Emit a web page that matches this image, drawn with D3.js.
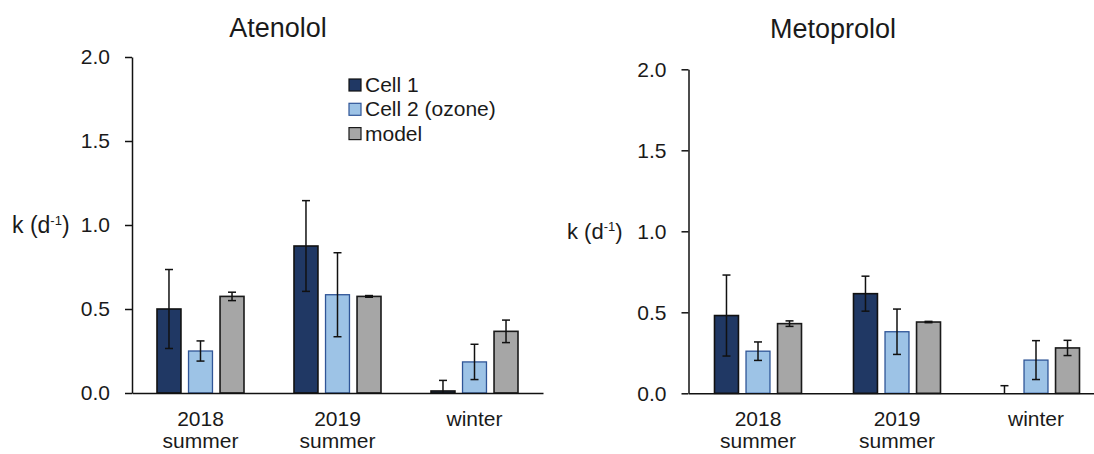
<!DOCTYPE html>
<html>
<head>
<meta charset="utf-8">
<script src="https://cdn.jsdelivr.net/npm/d3@7"></script>
<style>
  html, body { margin: 0; padding: 0; background: #ffffff; }
  svg { display: block; }
  text { font-family: "Liberation Sans", Arial, Helvetica, sans-serif; fill: #1a1a1a; }
</style>
</head>
<body>
<svg id="chart" width="1094" height="454"></svg>
<script>
// Categories and series
const groupLabels = [["2018", "summer"], ["2019", "summer"], ["winter"]];
const groupKeys = ["2018 summer", "2019 summer", "winter"];
const seriesNames = ["Cell 1", "Cell 2 (ozone)", "model"];
const yTicks = [0, 0.5, 1.0, 1.5, 2.0];

// Atenolol rate constants k (d-1) and error
const atenololCell1 = [0.50, 0.875, 0.012];
const atenololCell1Err = [0.235, 0.27, 0.063];
const atenololCell2 = [0.25, 0.585, 0.185];
const atenololCell2Err = [0.06, 0.25, 0.105];
const atenololModel = [0.575, 0.575, 0.367];
const atenololModelErr = [0.025, 0.005, 0.067];

// Metoprolol rate constants k (d-1) and error
const metoprololCell1 = [0.48, 0.615, 0];
const metoprololCell1Err = [0.25, 0.108, 0.047];
const metoprololCell2 = [0.26, 0.38, 0.205];
const metoprololCell2Err = [0.057, 0.14, 0.12];
const metoprololModel = [0.43, 0.44, 0.28];
const metoprololModelErr = [0.017, 0.004, 0.047];

const seriesStyle = {
  "Cell 1":         { fill: "#203864", stroke: "#111111", sw: 1.6 },
  "Cell 2 (ozone)": { fill: "#9dc3e6", stroke: "#2f5597", sw: 1.3 },
  "model":          { fill: "#a6a6a6", stroke: "#1a1a1a", sw: 1.6 }
};

function buildRows(v1, e1, v2, e2, v3, e3) {
  const rows = [];
  groupKeys.forEach((g, i) => {
    rows.push({ group: g, series: seriesNames[0], value: v1[i], err: e1[i] });
    rows.push({ group: g, series: seriesNames[1], value: v2[i], err: e2[i] });
    rows.push({ group: g, series: seriesNames[2], value: v3[i], err: e3[i] });
  });
  return rows;
}

const panels = [
  {
    title: "Atenolol", titleX: 278, titleY: 37,
    left: 132, right: 543, bottom: 393, top: 57, labelX: 12, labelSize: 23,
    rows: buildRows(atenololCell1, atenololCell1Err, atenololCell2, atenololCell2Err, atenololModel, atenololModelErr),
    legend: true
  },
  {
    title: "Metoprolol", titleX: 833, titleY: 38,
    left: 688.5, right: 1105.5, bottom: 393.3, top: 69.3, labelX: 567, labelSize: 22,
    rows: buildRows(metoprololCell1, metoprololCell1Err, metoprololCell2, metoprololCell2Err, metoprololModel, metoprololModelErr),
    legend: false
  }
];

const svg = d3.select("#chart");

panels.forEach(p => {
  const g = svg.append("g");

  const x = d3.scaleBand().domain(groupKeys).range([p.left, p.right]).padding(0);
  const inner = d3.scaleBand().domain(seriesNames).range([0, 87]).paddingInner(0.24).paddingOuter(0);
  const offset = (x.bandwidth() - 87) / 2;
  const y = d3.scaleLinear().domain([0, 2]).range([p.bottom, p.top]);

  // Title
  g.append("text")
    .attr("x", p.titleX).attr("y", p.titleY)
    .attr("text-anchor", "middle")
    .style("font-size", "27px")
    .text(p.title);

  // Bars
  g.selectAll("rect.bar").data(p.rows).enter().append("rect")
    .attr("class", "bar")
    .attr("x", d => x(d.group) + offset + inner(d.series))
    .attr("width", inner.bandwidth())
    .attr("y", d => y(d.value))
    .attr("height", d => y(0) - y(d.value))
    .attr("fill", d => seriesStyle[d.series].fill)
    .attr("stroke", d => seriesStyle[d.series].stroke)
    .attr("stroke-width", d => seriesStyle[d.series].sw);

  // Error bars (clipped at the axis minimum)
  const capHalf = 4;
  const eb = g.selectAll("g.err").data(p.rows).enter().append("g").attr("class", "err");
  const cx = d => x(d.group) + offset + inner(d.series) + inner.bandwidth() / 2;
  eb.append("line")
    .attr("x1", cx).attr("x2", cx)
    .attr("y1", d => y(d.value + d.err))
    .attr("y2", d => y(Math.max(0, d.value - d.err)))
    .attr("stroke", "#111").attr("stroke-width", 1.5);
  eb.append("line")
    .attr("x1", d => cx(d) - capHalf).attr("x2", d => cx(d) + capHalf)
    .attr("y1", d => y(d.value + d.err)).attr("y2", d => y(d.value + d.err))
    .attr("stroke", "#111").attr("stroke-width", 1.5);
  eb.filter(d => d.value - d.err > 0).append("line")
    .attr("x1", d => cx(d) - capHalf).attr("x2", d => cx(d) + capHalf)
    .attr("y1", d => y(d.value - d.err)).attr("y2", d => y(d.value - d.err))
    .attr("stroke", "#111").attr("stroke-width", 1.5);

  // Y axis
  const yAxis = g.append("g")
    .attr("transform", `translate(${p.left},0)`)
    .call(d3.axisLeft(y).tickValues(yTicks).tickFormat(d3.format(".1f")).tickSize(7).tickSizeOuter(0).tickPadding(15));
  yAxis.select(".domain").attr("stroke", "#111").attr("stroke-width", 1.5);
  yAxis.selectAll(".tick line").attr("stroke", "#111").attr("stroke-width", 1.5);
  yAxis.selectAll(".tick text")
    .style("font-size", "21px")
    .style("font-family", "'Liberation Sans', Arial, sans-serif")
    .attr("fill", "#1a1a1a");

  // X axis
  const xAxis = g.append("g")
    .attr("transform", `translate(0,${p.bottom})`)
    .call(d3.axisBottom(x).tickSize(0).tickSizeOuter(0).tickFormat(""));
  xAxis.select(".domain").attr("stroke", "#111").attr("stroke-width", 1.5);
  xAxis.selectAll(".tick").each(function(d, i) {
    const t = d3.select(this).append("text")
      .attr("text-anchor", "middle")
      .style("font-size", "21px");
    groupLabels[i].forEach((line, j) => {
      t.append("tspan").attr("x", 0).attr("y", 33 + j * 22).text(line);
    });
  });

  // Y axis title
  const yl = g.append("text")
    .attr("x", p.labelX).attr("y", y(1) + 8)
    .style("font-size", p.labelSize + "px");
  yl.append("tspan").text("k (d");
  yl.append("tspan").attr("dy", -8).style("font-size", "13px").text("-1");
  yl.append("tspan").attr("dy", 8).text(")");

  // Legend
  if (p.legend) {
    const lg = g.append("g").attr("transform", "translate(349,79)");
    const item = lg.selectAll("g").data(seriesNames).enter().append("g")
      .attr("transform", (d, i) => `translate(0,${i * 24.3})`);
    item.append("rect")
      .attr("width", 12).attr("height", 12)
      .attr("fill", d => seriesStyle[d].fill)
      .attr("stroke", d => seriesStyle[d].stroke)
      .attr("stroke-width", 1.2);
    item.append("text")
      .attr("x", 16).attr("y", 13)
      .style("font-size", "21px")
      .text(d => d);
  }
});
</script>
</body>
</html>
